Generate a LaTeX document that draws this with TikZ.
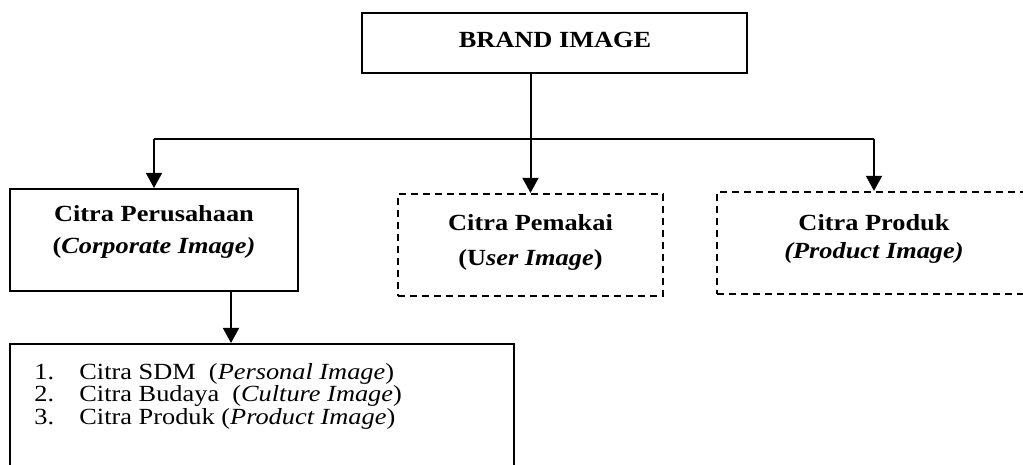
\documentclass[tikz,border=0pt]{standalone}
\usepackage{fontspec}
\setmainfont{Liberation Serif}[FakeStretch=1.14]
\usetikzlibrary{arrows.meta,positioning}
\newdimen\px \px=0.45pt

\begin{document}
\begin{tikzpicture}[x=1\px,y=-1\px,
  wire/.style={line width=0.9pt},
  arr/.style={wire,-{Triangle[width=7.2pt,length=6.8pt]}},
  box/.style={draw,line width=0.9pt,inner sep=0pt},
  dbox/.style={box,line width=1pt,dash pattern=on 3.2pt off 2.2pt},
  txt/.style={font=\fontsize{10.4pt}{12.6pt}\selectfont,align=center,inner sep=0pt}]

\useasboundingbox (0,0) rectangle (1023,464);
\clip (0,0) rectangle (1023,464);

% --- brand image ------------------------------------------------------
\node[box,minimum width=385\px,minimum height=60\px] (brandbox) at (554.5,43) {};
\node[txt] (brand) at (555,40) {\textbf{BRAND IMAGE}};

% --- three kinds of image ---------------------------------------------
\node[box,minimum width=288\px,minimum height=102\px] (corpbox) at (154,240) {};
\node[txt] (corp) at (154,232) {\textbf{Citra Perusahaan}\\[1.8pt]\textbf{(\textit{Corporate Image)}}};

\node[dbox,minimum width=265\px,minimum height=102\px] (userbox) at (530.5,245) {};
\node[txt] (user) at (530.5,242) {\textbf{Citra Pemakai}\\[3.15pt]\textbf{(U\textit{ser Image})}};

\node[dbox,minimum width=314\px,minimum height=102\px] (prodbox) at (874,243) {};
\node[txt] (prod) at (874,239) {\textbf{Citra Produk}\\\textbf{\textit{(Product Image)}}};

% --- branches ---------------------------------------------------------
\coordinate (split) at (530.5,139);
\draw[wire] (corpbox.north |- split) -- (prodbox.north |- split);
\draw[arr] (brandbox.south -| userbox.north) -- (userbox.north);
\draw[arr] (corpbox.north |- split) -- (corpbox.north);
\draw[arr] (prodbox.north |- split) -- (prodbox.north);

% --- list of corporate images -----------------------------------------
\node[box,minimum width=504\px,minimum height=140\px] (listbox) at (262,414) {};
\foreach \num/\lbl [count=\i] in {1./{Citra SDM\ \ (\textit{Personal Image})},
    2./{Citra Budaya\ \ (\textit{Culture Image})},
    3./{Citra Produk (\textit{Product Image})}}
  \node[txt,anchor=base west] (item\i) at (34,{356.3+22.7*\i}) {\makebox[45\px][l]{\num}\lbl};

\coordinate (drop) at (231,291);
\draw[arr] (drop |- corpbox.south) -- (drop |- listbox.north);
\end{tikzpicture}
\end{document}
